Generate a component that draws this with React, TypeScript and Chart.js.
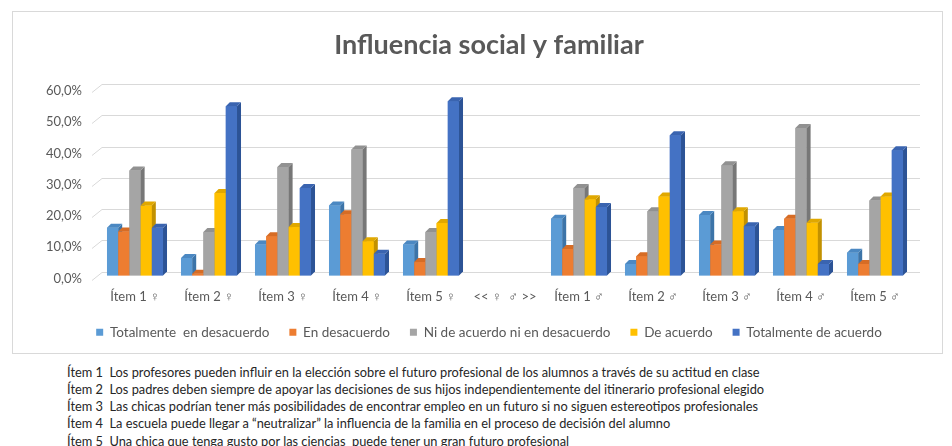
import React, { useEffect, useRef } from "react";
import { Chart, registerables } from "chart.js";

Chart.register(...registerables);

const categories = [
  "Ítem 1 ♀",
  "Ítem 2 ♀",
  "Ítem 3 ♀",
  "Ítem 4 ♀",
  "Ítem 5 ♀",
  "<< ♀  ♂ >>",
  "Ítem 1 ♂",
  "Ítem 2 ♂",
  "Ítem 3 ♂",
  "Ítem 4 ♂",
  "Ítem 5 ♂",
];

const seriesNames = [
  "Totalmente  en desacuerdo",
  "En desacuerdo",
  "Ni de acuerdo ni en desacuerdo",
  "De acuerdo",
  "Totalmente de acuerdo",
];

const totalmenteEnDesacuerdo = [15.3, 5.6, 9.9, 22.4, 9.9, null, 18.2, 3.7, 19.4, 14.6, 7.3];
const enDesacuerdo = [14.1, 0.6, 12.6, 19.6, 4.3, null, 8.5, 6.2, 9.9, 18.2, 3.7];
const niDeAcuerdo = [33.6, 13.9, 34.7, 40.3, 13.9, null, 28.0, 20.6, 35.3, 47.2, 24.0];
const deAcuerdo = [22.4, 26.4, 15.5, 11.0, 16.8, null, 24.4, 25.3, 20.6, 16.9, 25.3];
const totalmenteDeAcuerdo = [15.3, 54.2, 28.0, 7.0, 55.8, null, 21.9, 44.9, 15.8, 3.7, 40.1];

const yMin = 0;
const yMax = 60;
const yStep = 10;

const title = "Influencia social y familiar";

const notes = [
  "Ítem 1  Los profesores pueden influir en la elección sobre el futuro profesional de los alumnos a través de su actitud en clase",
  "Ítem 2  Los padres deben siempre de apoyar las decisiones de sus hijos independientemente del itinerario profesional elegido",
  "Ítem 3  Las chicas podrían tener más posibilidades de encontrar empleo en un futuro si no siguen estereotipos profesionales",
  "Ítem 4  La escuela puede llegar a “neutralizar” la influencia de la familia en el proceso de decisión del alumno",
  "Ítem 5  Una chica que tenga gusto por las ciencias  puede tener un gran futuro profesional",
];

const frontColors = ["#5B9BD5", "#ED7D31", "#A5A5A5", "#FFC000", "#4472C4"];
const sideColors = ["#3C74A8", "#B55A1E", "#777777", "#C29100", "#2C5396"];
const topColors = ["#4B88C2", "#D66C25", "#919191", "#E0A800", "#3A64B0"];

const FONT = "Lato, 'Open Sans', sans-serif";

const bar3d = {
  id: "bar3d",
  afterDatasetsDraw(chart: any) {
    const ctx = chart.ctx;
    const n = chart.data.labels.length;
    const d = 4;
    ctx.save();
    for (let c = 0; c < n; c++) {
      chart.data.datasets.forEach((ds: any, di: number) => {
        const meta = chart.getDatasetMeta(di);
        const el = meta.data[c];
        if (!el || ds.data[c] == null) return;
        const { x, y, base, width } = el.getProps(["x", "y", "base", "width"], true);
        const l = x - width / 2;
        const r = x + width / 2;
        ctx.fillStyle = frontColors[di];
        ctx.fillRect(l, y, width, base - y);
        ctx.fillStyle = sideColors[di];
        ctx.beginPath();
        ctx.moveTo(r, y);
        ctx.lineTo(r + d, y - d);
        ctx.lineTo(r + d, base - d);
        ctx.lineTo(r, base);
        ctx.closePath();
        ctx.fill();
        ctx.fillStyle = topColors[di];
        ctx.beginPath();
        ctx.moveTo(l, y);
        ctx.lineTo(l + d, y - d);
        ctx.lineTo(r + d, y - d);
        ctx.lineTo(r, y);
        ctx.closePath();
        ctx.fill();
      });
    }
    ctx.restore();
  },
};

const wallGrid = {
  id: "wallGrid",
  beforeDatasetsDraw(chart: any) {
    const ctx = chart.ctx;
    const ys = chart.scales.y;
    const area = chart.chartArea;
    ctx.save();
    ctx.strokeStyle = "#D9D9D9";
    ctx.lineWidth = 1;
    ys.ticks.forEach((t: any) => {
      const yF = Math.round(ys.getPixelForValue(t.value)) + 0.5;
      ctx.beginPath();
      ctx.moveTo(area.left - 6, yF + 4);
      ctx.lineTo(area.left + 4, yF - 4);
      ctx.lineTo(area.right + 8, yF - 4);
      ctx.stroke();
    });
    ctx.restore();
  },
};

export default function App() {
  const ref = useRef<HTMLCanvasElement | null>(null);

  useEffect(() => {
    if (!ref.current) return;
    const series = [totalmenteEnDesacuerdo, enDesacuerdo, niDeAcuerdo, deAcuerdo, totalmenteDeAcuerdo];
    const chart = new Chart(ref.current, {
      type: "bar",
      data: {
        labels: categories,
        datasets: series.map((data, i) => ({
          label: seriesNames[i],
          data,
          backgroundColor: frontColors[i],
          borderWidth: 0,
          categoryPercentage: 0.757,
          barPercentage: 1,
        })),
      },
      options: {
        animation: false,
        responsive: true,
        maintainAspectRatio: false,
        devicePixelRatio: 1,
        layout: { padding: { left: 28, right: 5, top: 0, bottom: 4 } },
        plugins: {
          title: {
            display: true,
            text: title,
            color: "#595959",
            font: { family: FONT, size: 27, weight: "bold" },
            padding: { top: 17, bottom: 26.6 },
          },
          legend: {
            position: "bottom",
            labels: {
              boxWidth: 7,
              boxHeight: 7,
              padding: 20,
              color: "#595959",
              font: { family: FONT, size: 13.5 },
            },
          },
          tooltip: { enabled: false },
        },
        scales: {
          x: {
            grid: { display: false, drawTicks: false },
            border: { display: false },
            ticks: {
              color: "#595959",
              font: { family: FONT, size: 13 },
              padding: 14,
              maxRotation: 0,
              autoSkip: false,
            },
            afterFit: (s: any) => {
              s.height = 30;
            },
          },
          y: {
            min: yMin,
            max: yMax,
            grid: { display: false, drawTicks: false },
            border: { display: false },
            ticks: {
              stepSize: yStep,
              color: "#595959",
              font: { family: FONT, size: 13 },
              padding: 16,
              labelOffset: 3,
              callback: (v: any) => Number(v).toFixed(1).replace(".", ",") + "%",
            },
            afterFit: (s: any) => {
              s.width = 57;
            },
          },
          yRight: {
            type: "linear",
            position: "right",
            display: true,
            grid: { display: false, drawTicks: false },
            border: { display: false },
            ticks: { display: false },
            afterFit: (s: any) => {
              s.width = 25;
            },
          },
        },
      },
      plugins: [wallGrid, bar3d],
    });
    return () => chart.destroy();
  }, []);

  return (
    <div style={{ position: "fixed", left: 0, top: 0, width: 952, height: 446, background: "#fff", overflow: "hidden" }}>
      <div
        style={{
          position: "absolute",
          left: 12,
          top: 11,
          width: 929,
          height: 341,
          border: "1px solid #D9D9D9",
        }}
      >
        <canvas ref={ref} />
      </div>
      {notes.map((t, i) => (
        <div
          key={i}
          style={{
            position: "absolute",
            left: 67,
            top: 363.5 + i * 17.25,
            fontFamily: FONT,
            fontSize: 12.8,
            lineHeight: "16px",
            color: "#262626",
            whiteSpace: "pre",
          }}
        >
          {t}
        </div>
      ))}
    </div>
  );
}
